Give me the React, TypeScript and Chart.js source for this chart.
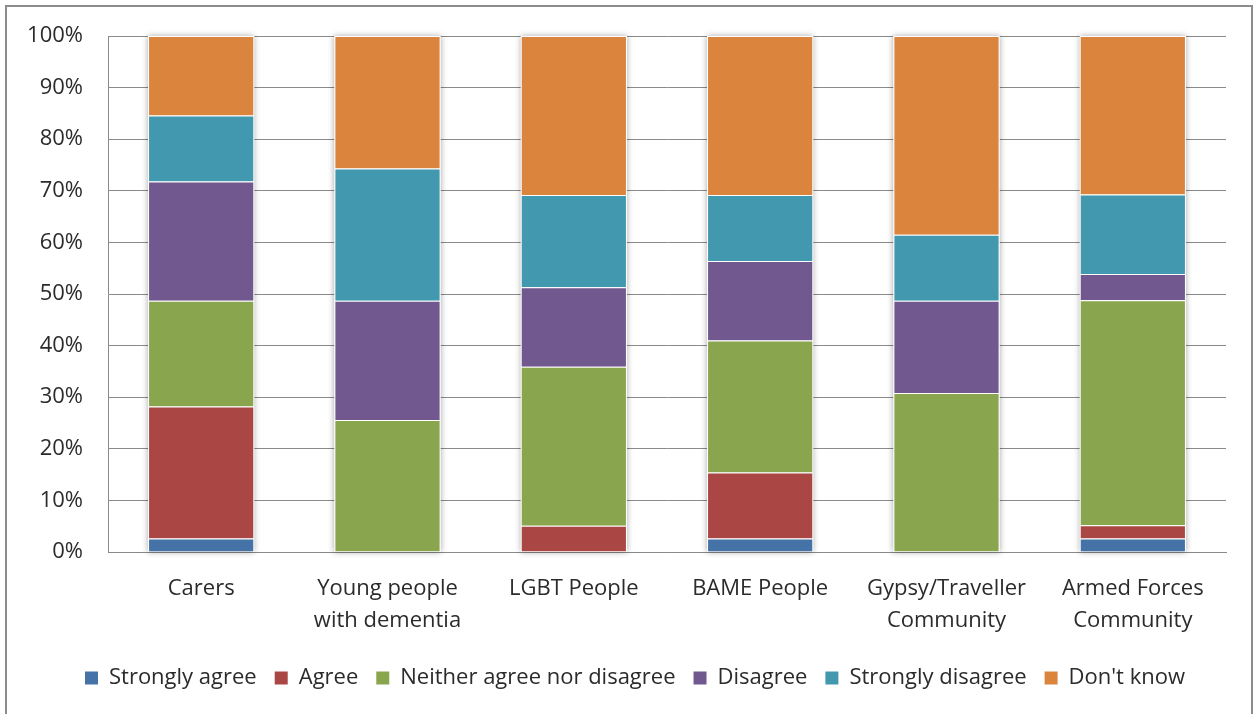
import React, { useEffect, useRef } from "react";
import { Chart, registerables } from "chart.js";

Chart.register(...registerables);

const categories: (string | string[])[] = [
  "Carers",
  ["Young people", "with dementia"],
  "LGBT People",
  "BAME People",
  ["Gypsy/Traveller", "Community"],
  ["Armed Forces", "Community"],
];

const seriesNames = [
  "Strongly agree",
  "Agree",
  "Neither agree nor disagree",
  "Disagree",
  "Strongly disagree",
  "Don't know",
];

// Share of responses per group, in percent
const stronglyAgree = [2.6, 0, 0, 2.6, 0, 2.6];
const agree = [25.6, 0, 5.1, 12.8, 0, 2.6];
const neither = [20.5, 25.6, 30.8, 25.6, 30.8, 43.6];
const disagree = [23.1, 23.1, 15.4, 15.4, 17.9, 5.1];
const stronglyDisagree = [12.8, 25.6, 17.9, 12.8, 12.8, 15.4];
const dontKnow = [15.4, 25.7, 30.8, 30.8, 38.5, 30.7];

const seriesValues = [stronglyAgree, agree, neither, disagree, stronglyDisagree, dontKnow];
const seriesColors = ["#4572A7", "#AA4643", "#89A54E", "#71588F", "#4198AF", "#DB843D"];

const yTicks = [0, 10, 20, 30, 40, 50, 60, 70, 80, 90, 100];

const FONT = "'Open Sans', sans-serif";
const TEXT = "#2b2b2b";
const GRID = "#8a8a8a";

// Soft drop shadow behind each full column, drawn before the segments
const columnShadow = {
  id: "columnShadow",
  beforeDatasetsDraw(chart: any) {
    const ctx = chart.ctx;
    const metas = chart.data.datasets.map((_: any, d: number) => chart.getDatasetMeta(d));
    const n = chart.data.labels.length;
    ctx.save();
    ctx.shadowColor = "rgba(0,0,0,0.35)";
    ctx.shadowBlur = 6;
    ctx.shadowOffsetX = 0;
    ctx.shadowOffsetY = 0;
    ctx.fillStyle = "#ffffff";
    for (let i = 0; i < n; i++) {
      let top = Infinity;
      let bottom = -Infinity;
      let x = 0;
      let w = 0;
      metas.forEach((m: any) => {
        const el = m.data[i];
        if (!el) return;
        const p = el.getProps(["x", "y", "base", "width"], true);
        x = p.x;
        w = p.width;
        top = Math.min(top, p.y, p.base);
        bottom = Math.max(bottom, p.y, p.base);
      });
      if (isFinite(top)) ctx.fillRect(x - w / 2, top, w, bottom - top);
    }
    ctx.restore();
  },
};

// Centre the legend row on the whole frame rather than the plot width
const legendShift = {
  id: "legendShift",
  afterLayout(chart: any) {
    const lg = chart.legend;
    if (!lg) return;
    lg.left += 22;
    lg.right += 22;
  },
};

export default function App() {
  const canvasRef = useRef<HTMLCanvasElement>(null);

  useEffect(() => {
    if (!canvasRef.current) return;
    const chart = new Chart(canvasRef.current, {
      type: "bar",
      data: {
        labels: categories,
        datasets: seriesNames.map((name, i) => ({
          label: name,
          data: seriesValues[i],
          backgroundColor: seriesColors[i],
          borderColor: "#ffffff",
          borderWidth: 1,
          barPercentage: 0.57,
          categoryPercentage: 1,
        })),
      },
      plugins: [columnShadow, legendShift],
      options: {
        animation: false,
        responsive: false,
        devicePixelRatio: 1,
        layout: { padding: { left: 0, top: 36, right: 29, bottom: 15 } },
        scales: {
          x: {
            stacked: true,
            grid: { display: false, drawTicks: false },
            border: { display: true, color: GRID, width: 1 },
            ticks: {
              padding: 21,
              color: TEXT,
              font: { family: FONT, size: 22, lineHeight: 1.45 },
              maxRotation: 0,
              autoSkip: false,
            },
            afterFit(scale: any) {
              scale.height = 97;
            },
          },
          y: {
            stacked: true,
            min: 0,
            max: 100,
            afterBuildTicks(scale: any) {
              scale.ticks = yTicks.map((v) => ({ value: v }));
            },
            grid: { color: GRID, lineWidth: 1, drawTicks: false },
            border: { display: true, color: GRID, width: 1 },
            ticks: {
              padding: 25,
              color: TEXT,
              font: { family: FONT, size: 22 },
              callback: (v: any) => v + "%",
            },
            afterFit(scale: any) {
              scale.width = 108;
              scale.paddingTop = 12;
              scale.paddingBottom = 12;
            },
          },
        },
        plugins: {
          tooltip: { enabled: false },
          legend: {
            position: "bottom",
            labels: {
              color: TEXT,
              font: { family: FONT, size: 22 },
              boxWidth: 13,
              boxHeight: 13,
              padding: 18,
              generateLabels(c: any) {
                const items = Chart.defaults.plugins.legend.labels.generateLabels(c);
                return items.map((it: any) => ({ ...it, strokeStyle: it.fillStyle, lineWidth: 0 }));
              },
            },
          },
        },
      },
    });
    return () => chart.destroy();
  }, []);

  return (
    <div
      style={{
        position: "absolute",
        left: 0,
        top: 0,
        width: 1255,
        height: 714,
        overflow: "hidden",
        background: "#ffffff",
      }}
    >
      <div
        style={{
          position: "absolute",
          left: 5,
          top: 5,
          width: 1248,
          height: 730,
          border: "2px solid #8c8c8c",
          boxSizing: "border-box",
        }}
      />
      <canvas
        ref={canvasRef}
        width={1255}
        height={714}
        style={{ position: "absolute", left: 0, top: 0, width: 1255, height: 714 }}
      />
    </div>
  );
}
